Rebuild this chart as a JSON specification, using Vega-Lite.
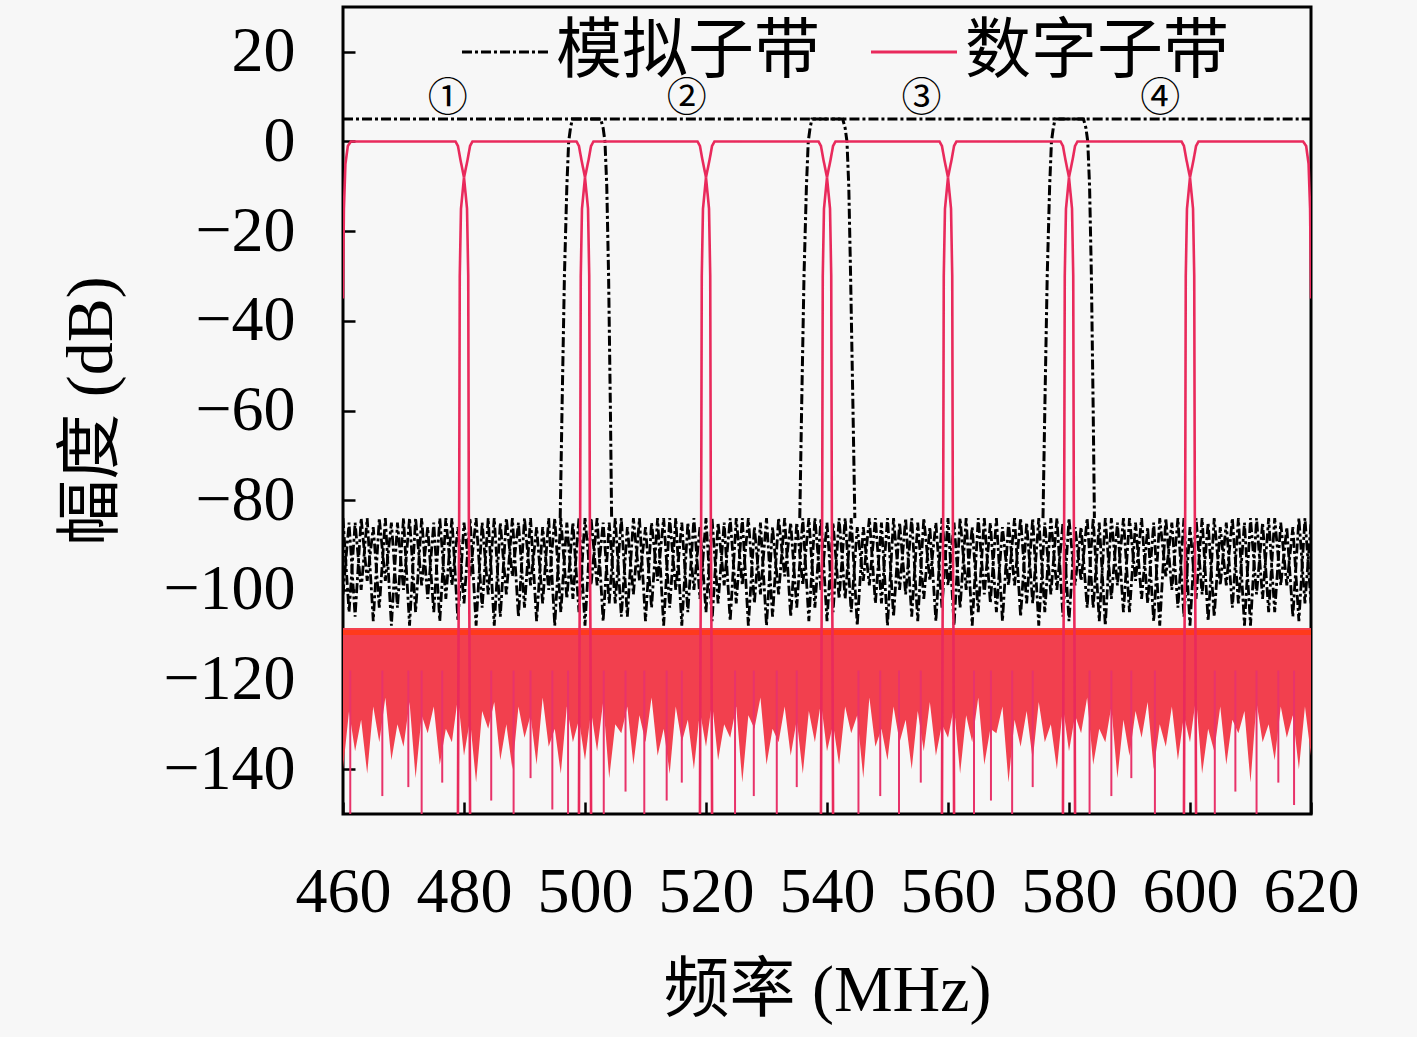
{
  "$schema": "https://vega.github.io/schema/vega-lite/v6.json",
  "width": 968,
  "height": 807,
  "padding": {"left": 58, "top": 7, "right": 63, "bottom": 15},
  "background": "#f7f7f7",
  "datasets": {
    "aripple": [
      {"x":460,"y":-84},{"x":461,"y":-105},{"x":462,"y":-85},{"x":463,"y":-100},{"x":464,"y":-84},{"x":465,"y":-107},{"x":466,"y":-84},{"x":467,"y":-98},{"x":468,"y":-85},{"x":469,"y":-104},
      {"x":470,"y":-84},{"x":471,"y":-108},{"x":472,"y":-84},{"x":473,"y":-99},{"x":474,"y":-86},{"x":475,"y":-105},{"x":476,"y":-84},{"x":477,"y":-102},{"x":478,"y":-84},{"x":479,"y":-107},
      {"x":480,"y":-85},{"x":481,"y":-97},{"x":482,"y":-84},{"x":483,"y":-104},{"x":484,"y":-84},{"x":485,"y":-108},{"x":486,"y":-85},{"x":487,"y":-101},{"x":488,"y":-84},{"x":489,"y":-106},
      {"x":490,"y":-84},{"x":491,"y":-99},{"x":492,"y":-86},{"x":493,"y":-103},{"x":494,"y":-84},{"x":495,"y":-108},{"x":496,"y":-84},{"x":497,"y":-102},{"x":498,"y":-85},{"x":499,"y":-105},
      {"x":500,"y":-84},{"x":501,"y":-99},{"x":502,"y":-84},{"x":503,"y":-107},{"x":504,"y":-85},{"x":505,"y":-103},{"x":506,"y":-84},{"x":507,"y":-106},{"x":508,"y":-84},{"x":509,"y":-98},
      {"x":510,"y":-86},{"x":511,"y":-104},{"x":512,"y":-84},{"x":513,"y":-108},{"x":514,"y":-84},{"x":515,"y":-100},{"x":516,"y":-85},{"x":517,"y":-105},{"x":518,"y":-84},{"x":519,"y":-102},
      {"x":520,"y":-84},{"x":521,"y":-107},{"x":522,"y":-85},{"x":523,"y":-99},{"x":524,"y":-84},{"x":525,"y":-103},{"x":526,"y":-84},{"x":527,"y":-108},{"x":528,"y":-86},{"x":529,"y":-101},
      {"x":530,"y":-84},{"x":531,"y":-106},{"x":532,"y":-84},{"x":533,"y":-97},{"x":534,"y":-85},{"x":535,"y":-104},{"x":536,"y":-84},{"x":537,"y":-107},{"x":538,"y":-84},{"x":539,"y":-100},
      {"x":540,"y":-85},{"x":541,"y":-105},{"x":542,"y":-84},{"x":543,"y":-102},{"x":544,"y":-84},{"x":545,"y":-108},{"x":546,"y":-86},{"x":547,"y":-99},{"x":548,"y":-84},{"x":549,"y":-103},
      {"x":550,"y":-84},{"x":551,"y":-106},{"x":552,"y":-85},{"x":553,"y":-101},{"x":554,"y":-84},{"x":555,"y":-107},{"x":556,"y":-84},{"x":557,"y":-98},{"x":558,"y":-85},{"x":559,"y":-104},
      {"x":560,"y":-84},{"x":561,"y":-108},{"x":562,"y":-84},{"x":563,"y":-100},{"x":564,"y":-86},{"x":565,"y":-105},{"x":566,"y":-84},{"x":567,"y":-103},{"x":568,"y":-84},{"x":569,"y":-107},
      {"x":570,"y":-85},{"x":571,"y":-99},{"x":572,"y":-84},{"x":573,"y":-103},{"x":574,"y":-84},{"x":575,"y":-108},{"x":576,"y":-85},{"x":577,"y":-101},{"x":578,"y":-84},{"x":579,"y":-106},
      {"x":580,"y":-84},{"x":581,"y":-99},{"x":582,"y":-86},{"x":583,"y":-104},{"x":584,"y":-84},{"x":585,"y":-107},{"x":586,"y":-84},{"x":587,"y":-102},{"x":588,"y":-85},{"x":589,"y":-105},
      {"x":590,"y":-84},{"x":591,"y":-98},{"x":592,"y":-84},{"x":593,"y":-103},{"x":594,"y":-85},{"x":595,"y":-108},{"x":596,"y":-84},{"x":597,"y":-100},{"x":598,"y":-84},{"x":599,"y":-106},
      {"x":600,"y":-86},{"x":601,"y":-102},{"x":602,"y":-84},{"x":603,"y":-107},{"x":604,"y":-84},{"x":605,"y":-99},{"x":606,"y":-85},{"x":607,"y":-104},{"x":608,"y":-84},{"x":609,"y":-108},
      {"x":610,"y":-84},{"x":611,"y":-101},{"x":612,"y":-85},{"x":613,"y":-105},{"x":614,"y":-84},{"x":615,"y":-99},{"x":616,"y":-86},{"x":617,"y":-106},{"x":618,"y":-84},{"x":619,"y":-103},
      {"x":620,"y":-85}
    ],
    "aripple2": [
      {"x":460,"y":-101},{"x":461,"y":-85},{"x":462,"y":-106},{"x":463,"y":-84},{"x":464,"y":-98},{"x":465,"y":-86},{"x":466,"y":-104},{"x":467,"y":-84},{"x":468,"y":-108},{"x":469,"y":-85},
      {"x":470,"y":-100},{"x":471,"y":-84},{"x":472,"y":-105},{"x":473,"y":-84},{"x":474,"y":-102},{"x":475,"y":-85},{"x":476,"y":-107},{"x":477,"y":-84},{"x":478,"y":-99},{"x":479,"y":-86},
      {"x":480,"y":-103},{"x":481,"y":-84},{"x":482,"y":-108},{"x":483,"y":-85},{"x":484,"y":-101},{"x":485,"y":-84},{"x":486,"y":-106},{"x":487,"y":-84},{"x":488,"y":-97},{"x":489,"y":-85},
      {"x":490,"y":-104},{"x":491,"y":-84},{"x":492,"y":-107},{"x":493,"y":-86},{"x":494,"y":-100},{"x":495,"y":-84},{"x":496,"y":-105},{"x":497,"y":-85},{"x":498,"y":-102},{"x":499,"y":-84},
      {"x":500,"y":-108},{"x":501,"y":-84},{"x":502,"y":-99},{"x":503,"y":-85},{"x":504,"y":-103},{"x":505,"y":-84},{"x":506,"y":-106},{"x":507,"y":-86},{"x":508,"y":-101},{"x":509,"y":-84},
      {"x":510,"y":-107},{"x":511,"y":-85},{"x":512,"y":-98},{"x":513,"y":-84},{"x":514,"y":-104},{"x":515,"y":-84},{"x":516,"y":-108},{"x":517,"y":-85},{"x":518,"y":-100},{"x":519,"y":-86},
      {"x":520,"y":-105},{"x":521,"y":-84},{"x":522,"y":-103},{"x":523,"y":-85},{"x":524,"y":-107},{"x":525,"y":-84},{"x":526,"y":-99},{"x":527,"y":-84},{"x":528,"y":-103},{"x":529,"y":-85},
      {"x":530,"y":-108},{"x":531,"y":-86},{"x":532,"y":-101},{"x":533,"y":-84},{"x":534,"y":-106},{"x":535,"y":-85},{"x":536,"y":-99},{"x":537,"y":-84},{"x":538,"y":-104},{"x":539,"y":-84},
      {"x":540,"y":-107},{"x":541,"y":-85},{"x":542,"y":-102},{"x":543,"y":-84},{"x":544,"y":-105},{"x":545,"y":-86},{"x":546,"y":-98},{"x":547,"y":-84},{"x":548,"y":-103},{"x":549,"y":-85},
      {"x":550,"y":-108},{"x":551,"y":-84},{"x":552,"y":-100},{"x":553,"y":-84},{"x":554,"y":-106},{"x":555,"y":-85},{"x":556,"y":-102},{"x":557,"y":-86},{"x":558,"y":-107},{"x":559,"y":-84},
      {"x":560,"y":-99},{"x":561,"y":-85},{"x":562,"y":-104},{"x":563,"y":-84},{"x":564,"y":-108},{"x":565,"y":-84},{"x":566,"y":-101},{"x":567,"y":-85},{"x":568,"y":-105},{"x":569,"y":-86},
      {"x":570,"y":-99},{"x":571,"y":-84},{"x":572,"y":-106},{"x":573,"y":-85},{"x":574,"y":-103},{"x":575,"y":-84},{"x":576,"y":-105},{"x":577,"y":-84},{"x":578,"y":-100},{"x":579,"y":-85},
      {"x":580,"y":-107},{"x":581,"y":-86},{"x":582,"y":-98},{"x":583,"y":-84},{"x":584,"y":-104},{"x":585,"y":-85},{"x":586,"y":-108},{"x":587,"y":-84},{"x":588,"y":-99},{"x":589,"y":-84},
      {"x":590,"y":-105},{"x":591,"y":-85},{"x":592,"y":-102},{"x":593,"y":-86},{"x":594,"y":-107},{"x":595,"y":-84},{"x":596,"y":-97},{"x":597,"y":-85},{"x":598,"y":-104},{"x":599,"y":-84},
      {"x":600,"y":-108},{"x":601,"y":-84},{"x":602,"y":-101},{"x":603,"y":-85},{"x":604,"y":-106},{"x":605,"y":-86},{"x":606,"y":-99},{"x":607,"y":-84},{"x":608,"y":-103},{"x":609,"y":-85},
      {"x":610,"y":-108},{"x":611,"y":-84},{"x":612,"y":-102},{"x":613,"y":-84},{"x":614,"y":-105},{"x":615,"y":-85},{"x":616,"y":-99},{"x":617,"y":-86},{"x":618,"y":-107},{"x":619,"y":-84},
      {"x":620,"y":-103}
    ],
    "aedge": [
      {"g":"a1","x":460,"y":5},{"g":"a1","x":502.6,"y":5},{"g":"a1","x":503.0,"y":3},{"g":"a1","x":503.3,"y":0},{"g":"a1","x":503.6,"y":-10},{"g":"a1","x":503.9,"y":-30},{"g":"a1","x":504.2,"y":-60},{"g":"a1","x":504.4,"y":-84},
      {"g":"a2","x":495.9,"y":-84},{"g":"a2","x":496.2,"y":-60},{"g":"a2","x":496.6,"y":-30},{"g":"a2","x":497.0,"y":-10},{"g":"a2","x":497.3,"y":0},{"g":"a2","x":497.6,"y":3},{"g":"a2","x":497.9,"y":5},
      {"g":"a2","x":542.6,"y":5},{"g":"a2","x":543.0,"y":3},{"g":"a2","x":543.3,"y":0},{"g":"a2","x":543.6,"y":-10},{"g":"a2","x":543.9,"y":-30},{"g":"a2","x":544.3,"y":-60},{"g":"a2","x":544.6,"y":-84},
      {"g":"a3","x":535.5,"y":-84},{"g":"a3","x":535.8,"y":-60},{"g":"a3","x":536.2,"y":-30},{"g":"a3","x":536.6,"y":-10},{"g":"a3","x":536.9,"y":0},{"g":"a3","x":537.2,"y":3},{"g":"a3","x":537.5,"y":5},
      {"g":"a3","x":582.4,"y":5},{"g":"a3","x":582.8,"y":3},{"g":"a3","x":583.1,"y":0},{"g":"a3","x":583.4,"y":-10},{"g":"a3","x":583.7,"y":-30},{"g":"a3","x":584.0,"y":-60},{"g":"a3","x":584.2,"y":-84},
      {"g":"a4","x":575.7,"y":-84},{"g":"a4","x":576.0,"y":-60},{"g":"a4","x":576.4,"y":-30},{"g":"a4","x":576.8,"y":-10},{"g":"a4","x":577.1,"y":0},{"g":"a4","x":577.4,"y":3},{"g":"a4","x":577.7,"y":5},{"g":"a4","x":620,"y":5}
    ],
    "dmass": [
      {"x":460,"lo":-140},{"x":461,"lo":-127},{"x":462,"lo":-136},{"x":463,"lo":-129},{"x":464,"lo":-141},{"x":465,"lo":-126},{"x":466,"lo":-134},{"x":467,"lo":-124},{"x":468,"lo":-138},{"x":469,"lo":-130},
      {"x":470,"lo":-135},{"x":471,"lo":-125},{"x":472,"lo":-142},{"x":473,"lo":-128},{"x":474,"lo":-132},{"x":475,"lo":-126},{"x":476,"lo":-139},{"x":477,"lo":-131},{"x":478,"lo":-134},{"x":479,"lo":-124},
      {"x":480,"lo":-137},{"x":481,"lo":-129},{"x":482,"lo":-143},{"x":483,"lo":-127},{"x":484,"lo":-131},{"x":485,"lo":-125},{"x":486,"lo":-138},{"x":487,"lo":-130},{"x":488,"lo":-140},{"x":489,"lo":-126},
      {"x":490,"lo":-133},{"x":491,"lo":-128},{"x":492,"lo":-139},{"x":493,"lo":-124},{"x":494,"lo":-135},{"x":495,"lo":-131},{"x":496,"lo":-141},{"x":497,"lo":-126},{"x":498,"lo":-134},{"x":499,"lo":-129},
      {"x":500,"lo":-138},{"x":501,"lo":-127},{"x":502,"lo":-136},{"x":503,"lo":-125},{"x":504,"lo":-142},{"x":505,"lo":-130},{"x":506,"lo":-132},{"x":507,"lo":-126},{"x":508,"lo":-139},{"x":509,"lo":-128},
      {"x":510,"lo":-134},{"x":511,"lo":-124},{"x":512,"lo":-137},{"x":513,"lo":-131},{"x":514,"lo":-141},{"x":515,"lo":-126},{"x":516,"lo":-134},{"x":517,"lo":-129},{"x":518,"lo":-140},{"x":519,"lo":-127},
      {"x":520,"lo":-135},{"x":521,"lo":-125},{"x":522,"lo":-138},{"x":523,"lo":-130},{"x":524,"lo":-133},{"x":525,"lo":-126},{"x":526,"lo":-143},{"x":527,"lo":-128},{"x":528,"lo":-131},{"x":529,"lo":-124},
      {"x":530,"lo":-139},{"x":531,"lo":-131},{"x":532,"lo":-134},{"x":533,"lo":-126},{"x":534,"lo":-137},{"x":535,"lo":-129},{"x":536,"lo":-141},{"x":537,"lo":-127},{"x":538,"lo":-134},{"x":539,"lo":-125},
      {"x":540,"lo":-136},{"x":541,"lo":-130},{"x":542,"lo":-139},{"x":543,"lo":-126},{"x":544,"lo":-132},{"x":545,"lo":-128},{"x":546,"lo":-142},{"x":547,"lo":-124},{"x":548,"lo":-135},{"x":549,"lo":-131},
      {"x":550,"lo":-138},{"x":551,"lo":-126},{"x":552,"lo":-134},{"x":553,"lo":-129},{"x":554,"lo":-140},{"x":555,"lo":-127},{"x":556,"lo":-136},{"x":557,"lo":-125},{"x":558,"lo":-137},{"x":559,"lo":-130},
      {"x":560,"lo":-133},{"x":561,"lo":-126},{"x":562,"lo":-141},{"x":563,"lo":-128},{"x":564,"lo":-134},{"x":565,"lo":-124},{"x":566,"lo":-139},{"x":567,"lo":-131},{"x":568,"lo":-132},{"x":569,"lo":-126},
      {"x":570,"lo":-143},{"x":571,"lo":-129},{"x":572,"lo":-135},{"x":573,"lo":-127},{"x":574,"lo":-138},{"x":575,"lo":-125},{"x":576,"lo":-134},{"x":577,"lo":-130},{"x":578,"lo":-140},{"x":579,"lo":-126},
      {"x":580,"lo":-136},{"x":581,"lo":-128},{"x":582,"lo":-132},{"x":583,"lo":-124},{"x":584,"lo":-139},{"x":585,"lo":-131},{"x":586,"lo":-134},{"x":587,"lo":-126},{"x":588,"lo":-142},{"x":589,"lo":-129},
      {"x":590,"lo":-137},{"x":591,"lo":-127},{"x":592,"lo":-133},{"x":593,"lo":-125},{"x":594,"lo":-140},{"x":595,"lo":-130},{"x":596,"lo":-135},{"x":597,"lo":-126},{"x":598,"lo":-138},{"x":599,"lo":-128},
      {"x":600,"lo":-134},{"x":601,"lo":-124},{"x":602,"lo":-141},{"x":603,"lo":-131},{"x":604,"lo":-136},{"x":605,"lo":-126},{"x":606,"lo":-139},{"x":607,"lo":-129},{"x":608,"lo":-132},{"x":609,"lo":-127},
      {"x":610,"lo":-143},{"x":611,"lo":-125},{"x":612,"lo":-134},{"x":613,"lo":-130},{"x":614,"lo":-138},{"x":615,"lo":-126},{"x":616,"lo":-133},{"x":617,"lo":-128},{"x":618,"lo":-140},{"x":619,"lo":-126},
      {"x":620,"lo":-137}
    ],
    "spikes": [
      {"x":461.2,"lo":-150},{"x":466.5,"lo":-146},{"x":470.8,"lo":-144},{"x":473.0,"lo":-150},{"x":476.4,"lo":-143},
      {"x":484.5,"lo":-147},{"x":488.2,"lo":-150},{"x":491.0,"lo":-142},{"x":494.6,"lo":-149},{"x":497.2,"lo":-150},
      {"x":503.1,"lo":-150},{"x":506.7,"lo":-145},{"x":509.8,"lo":-150},{"x":513.5,"lo":-147},{"x":516.0,"lo":-143},
      {"x":524.8,"lo":-150},{"x":527.9,"lo":-146},{"x":531.7,"lo":-150},{"x":535.0,"lo":-144},{"x":545.2,"lo":-150},
      {"x":548.8,"lo":-146},{"x":551.9,"lo":-150},{"x":555.5,"lo":-143},{"x":564.3,"lo":-150},{"x":567.1,"lo":-147},
      {"x":570.6,"lo":-150},{"x":574.0,"lo":-144},{"x":583.4,"lo":-150},{"x":587.0,"lo":-146},{"x":590.3,"lo":-142},
      {"x":594.2,"lo":-150},{"x":604.1,"lo":-150},{"x":607.5,"lo":-145},{"x":611.0,"lo":-150},{"x":614.6,"lo":-143},{"x":617.2,"lo":-148}
    ],
    "dline": [
      {"g":"top","x":460,"y":-35},{"g":"top","x":460.15,"y":-15},{"g":"top","x":460.4,"y":-5},{"g":"top","x":460.8,"y":-1},{"g":"top","x":461.3,"y":0},
      {"g":"top","x":478.6,"y":0},{"g":"top","x":479.0,"y":-1},{"g":"top","x":479.4,"y":-4},{"g":"top","x":480,"y":-8},{"g":"top","x":480.6,"y":-4},{"g":"top","x":481.0,"y":-1},{"g":"top","x":481.4,"y":0},
      {"g":"top","x":498.6,"y":0},{"g":"top","x":499.0,"y":-1},{"g":"top","x":499.4,"y":-4},{"g":"top","x":500,"y":-8},{"g":"top","x":500.6,"y":-4},{"g":"top","x":501.0,"y":-1},{"g":"top","x":501.4,"y":0},
      {"g":"top","x":518.6,"y":0},{"g":"top","x":519.0,"y":-1},{"g":"top","x":519.4,"y":-4},{"g":"top","x":520,"y":-8},{"g":"top","x":520.6,"y":-4},{"g":"top","x":521.0,"y":-1},{"g":"top","x":521.4,"y":0},
      {"g":"top","x":538.6,"y":0},{"g":"top","x":539.0,"y":-1},{"g":"top","x":539.4,"y":-4},{"g":"top","x":540,"y":-8},{"g":"top","x":540.6,"y":-4},{"g":"top","x":541.0,"y":-1},{"g":"top","x":541.4,"y":0},
      {"g":"top","x":558.6,"y":0},{"g":"top","x":559.0,"y":-1},{"g":"top","x":559.4,"y":-4},{"g":"top","x":560,"y":-8},{"g":"top","x":560.6,"y":-4},{"g":"top","x":561.0,"y":-1},{"g":"top","x":561.4,"y":0},
      {"g":"top","x":578.6,"y":0},{"g":"top","x":579.0,"y":-1},{"g":"top","x":579.4,"y":-4},{"g":"top","x":580,"y":-8},{"g":"top","x":580.6,"y":-4},{"g":"top","x":581.0,"y":-1},{"g":"top","x":581.4,"y":0},
      {"g":"top","x":598.6,"y":0},{"g":"top","x":599.0,"y":-1},{"g":"top","x":599.4,"y":-4},{"g":"top","x":600,"y":-8},{"g":"top","x":600.6,"y":-4},{"g":"top","x":601.0,"y":-1},{"g":"top","x":601.4,"y":0},
      {"g":"top","x":618.7,"y":0},{"g":"top","x":619.2,"y":-1},{"g":"top","x":619.6,"y":-5},{"g":"top","x":619.85,"y":-15},{"g":"top","x":620,"y":-35},
      {"g":"n480","x":479.0,"y":-150},{"g":"n480","x":479.1,"y":-110},{"g":"n480","x":479.2,"y":-84},{"g":"n480","x":479.3,"y":-30},{"g":"n480","x":479.5,"y":-15},{"g":"n480","x":480,"y":-8},{"g":"n480","x":480.5,"y":-15},{"g":"n480","x":480.7,"y":-30},{"g":"n480","x":480.8,"y":-84},{"g":"n480","x":480.9,"y":-110},{"g":"n480","x":481.0,"y":-150},
      {"g":"n500","x":499.0,"y":-150},{"g":"n500","x":499.1,"y":-110},{"g":"n500","x":499.2,"y":-84},{"g":"n500","x":499.3,"y":-30},{"g":"n500","x":499.5,"y":-15},{"g":"n500","x":500,"y":-8},{"g":"n500","x":500.5,"y":-15},{"g":"n500","x":500.7,"y":-30},{"g":"n500","x":500.8,"y":-84},{"g":"n500","x":500.9,"y":-110},{"g":"n500","x":501.0,"y":-150},
      {"g":"n520","x":519.0,"y":-150},{"g":"n520","x":519.1,"y":-110},{"g":"n520","x":519.2,"y":-84},{"g":"n520","x":519.3,"y":-30},{"g":"n520","x":519.5,"y":-15},{"g":"n520","x":520,"y":-8},{"g":"n520","x":520.5,"y":-15},{"g":"n520","x":520.7,"y":-30},{"g":"n520","x":520.8,"y":-84},{"g":"n520","x":520.9,"y":-110},{"g":"n520","x":521.0,"y":-150},
      {"g":"n540","x":539.0,"y":-150},{"g":"n540","x":539.1,"y":-110},{"g":"n540","x":539.2,"y":-84},{"g":"n540","x":539.3,"y":-30},{"g":"n540","x":539.5,"y":-15},{"g":"n540","x":540,"y":-8},{"g":"n540","x":540.5,"y":-15},{"g":"n540","x":540.7,"y":-30},{"g":"n540","x":540.8,"y":-84},{"g":"n540","x":540.9,"y":-110},{"g":"n540","x":541.0,"y":-150},
      {"g":"n560","x":559.0,"y":-150},{"g":"n560","x":559.1,"y":-110},{"g":"n560","x":559.2,"y":-84},{"g":"n560","x":559.3,"y":-30},{"g":"n560","x":559.5,"y":-15},{"g":"n560","x":560,"y":-8},{"g":"n560","x":560.5,"y":-15},{"g":"n560","x":560.7,"y":-30},{"g":"n560","x":560.8,"y":-84},{"g":"n560","x":560.9,"y":-110},{"g":"n560","x":561.0,"y":-150},
      {"g":"n580","x":579.0,"y":-150},{"g":"n580","x":579.1,"y":-110},{"g":"n580","x":579.2,"y":-84},{"g":"n580","x":579.3,"y":-30},{"g":"n580","x":579.5,"y":-15},{"g":"n580","x":580,"y":-8},{"g":"n580","x":580.5,"y":-15},{"g":"n580","x":580.7,"y":-30},{"g":"n580","x":580.8,"y":-84},{"g":"n580","x":580.9,"y":-110},{"g":"n580","x":581.0,"y":-150},
      {"g":"n600","x":599.0,"y":-150},{"g":"n600","x":599.1,"y":-110},{"g":"n600","x":599.2,"y":-84},{"g":"n600","x":599.3,"y":-30},{"g":"n600","x":599.5,"y":-15},{"g":"n600","x":600,"y":-8},{"g":"n600","x":600.5,"y":-15},{"g":"n600","x":600.7,"y":-30},{"g":"n600","x":600.8,"y":-84},{"g":"n600","x":600.9,"y":-110},{"g":"n600","x":601.0,"y":-150}
    ],
    "circ": [
      {"x":477.3,"y":9.4,"t":"①"},
      {"x":516.8,"y":9.4,"t":"②"},
      {"x":555.6,"y":9.4,"t":"③"},
      {"x":595.1,"y":9.4,"t":"④"}
    ]
  },
  "encoding": {
    "x": {
      "field": "x",
      "type": "quantitative",
      "scale": {"domain": [460, 620], "nice": false, "zero": false},
      "axis": {"title": "频率 (MHz)", "values": [460, 480, 500, 520, 540, 560, 580, 600, 620], "labelPadding": 58, "titlePadding": 34}
    }
  },
  "layer": [
    {
      "data": {"name": "aripple"},
      "mark": {"type": "line", "strokeWidth": 2.8, "clip": true},
      "encoding": {
        "y": {"field": "y", "type": "quantitative", "title": "幅度 (dB)", "scale": {"domain": [-150, 30], "nice": false}, "axis": {"values": [-140, -120, -100, -80, -60, -40, -20, 0, 20], "labelPadding": 60, "titlePadding": 37}},
        "color": {"datum": "模拟子带", "scale": {"domain": ["模拟子带", "数字子带"], "range": ["#000000", "#e92a5c"]}, "legend": {"title": null}},
        "strokeDash": {"datum": "模拟子带", "scale": {"domain": ["模拟子带", "数字子带"], "range": [[10, 3, 3, 3], [1, 0]]}, "legend": {"title": null}}
      }
    },
    {
      "data": {"name": "aripple2"},
      "mark": {"type": "line", "strokeWidth": 2.8, "clip": true},
      "encoding": {
        "y": {"field": "y", "type": "quantitative", "title": "幅度 (dB)"},
        "color": {"datum": "模拟子带"},
        "strokeDash": {"datum": "模拟子带"}
      }
    },
    {
      "data": {"name": "aedge"},
      "mark": {"type": "line", "strokeWidth": 3, "clip": true},
      "encoding": {
        "y": {"field": "y", "type": "quantitative", "title": "幅度 (dB)"},
        "detail": {"field": "g"},
        "color": {"datum": "模拟子带"},
        "strokeDash": {"datum": "模拟子带"}
      }
    },
    {
      "data": {"name": "dmass"},
      "mark": {"type": "area", "color": "#f2404e", "clip": true},
      "encoding": {
        "y": {"field": "lo", "type": "quantitative", "title": "幅度 (dB)"},
        "y2": {"datum": -108.5}
      }
    },
    {
      "data": {"name": "dmass"},
      "mark": {"type": "rule", "color": "#ff3a1c", "strokeWidth": 5, "clip": true},
      "encoding": {
        "x": {"aggregate": "min", "field": "x", "type": "quantitative"},
        "x2": {"aggregate": "max", "field": "x"},
        "y": {"datum": -109.5, "type": "quantitative", "title": "幅度 (dB)"}
      }
    },
    {
      "data": {"name": "spikes"},
      "mark": {"type": "rule", "color": "#e8336a", "strokeWidth": 2, "clip": true},
      "encoding": {
        "y": {"field": "lo", "type": "quantitative", "title": "幅度 (dB)"},
        "y2": {"datum": -118}
      }
    },
    {
      "data": {"name": "dline"},
      "mark": {"type": "line", "strokeWidth": 2.6, "clip": true},
      "encoding": {
        "y": {"field": "y", "type": "quantitative", "title": "幅度 (dB)"},
        "detail": {"field": "g"},
        "color": {"datum": "数字子带"},
        "strokeDash": {"datum": "数字子带"}
      }
    },
    {
      "data": {"name": "circ"},
      "mark": {"type": "text", "font": "Noto Sans CJK SC", "fontSize": 40, "baseline": "middle", "align": "center", "color": "#000000"},
      "encoding": {
        "y": {"field": "y", "type": "quantitative", "title": "幅度 (dB)"},
        "text": {"field": "t"}
      }
    }
  ],
  "config": {
    "font": "Liberation Serif",
    "view": {"stroke": "#000000", "strokeWidth": 3},
    "axis": {
      "grid": false,
      "domain": false,
      "ticks": true,
      "tickSize": -12,
      "tickWidth": 2.5,
      "tickColor": "#000000",
      "labelFont": "Liberation Serif",
      "labelFontSize": 64,
      "labelColor": "#000000",
      "labelFlush": false,
      "labelOverlap": false,
      "labelBound": false,
      "titleFont": "Liberation Serif, Noto Sans CJK SC",
      "titleFontSize": 66,
      "titleFontWeight": "normal",
      "titleColor": "#000000"
    },
    "legend": {
      "orient": "none",
      "legendX": 117,
      "legendY": 0,
      "direction": "horizontal",
      "symbolType": "stroke",
      "symbolSize": 7400,
      "symbolStrokeWidth": 3,
      "labelFont": "Noto Sans CJK SC",
      "labelFontSize": 66,
      "labelColor": "#000000",
      "labelOffset": 6,
      "columnPadding": 44,
      "labelLimit": 400
    }
  }
}
